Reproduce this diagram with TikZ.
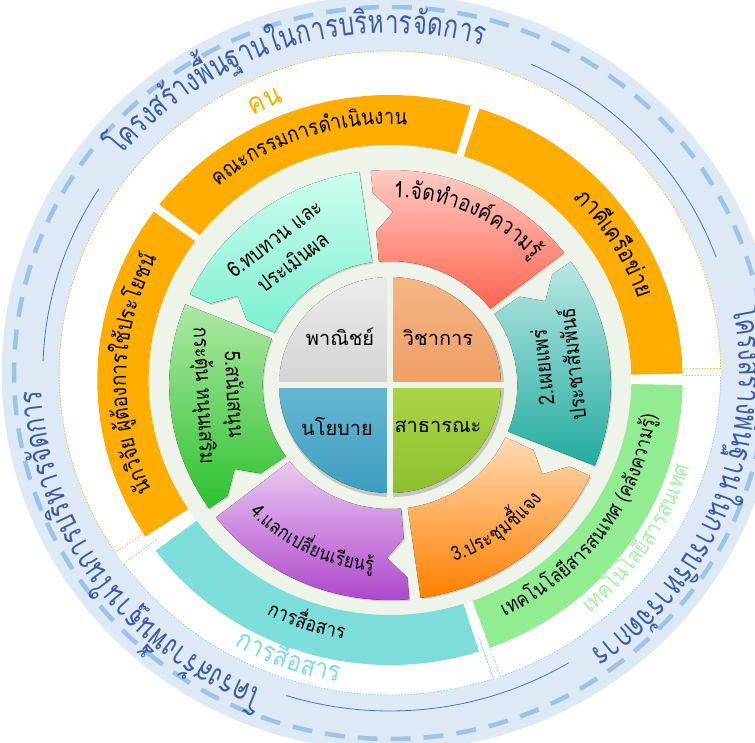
\documentclass[tikz,border=0pt]{standalone}
\usepackage{fontspec}
\newfontfamily\thai[Script=Thai]{Loma}
\newfontfamily\thaiC[Script=Thai,FakeStretch=0.85]{Loma}
\newfontfamily\thaiB[Script=Thai,FakeStretch=0.75]{Loma}
\usetikzlibrary{shadows}

\definecolor{bandC}{HTML}{DDEAF6}
\definecolor{dashC}{HTML}{9DC3E6}
\definecolor{lineC}{HTML}{4A76C4}
\definecolor{outtxt}{HTML}{3B5BA9}
\definecolor{orgC}{HTML}{FFAD00}
\definecolor{tealC}{HTML}{7CDDDB}
\definecolor{grnC}{HTML}{92EC92}
\definecolor{grnT}{HTML}{A3F2A3}
\definecolor{tealT}{HTML}{7DDEDE}
\definecolor{dotO}{HTML}{FFB940}
\definecolor{dotT}{HTML}{84D9E2}
\definecolor{paleC}{HTML}{EEF4EA}
\definecolor{a1t}{HTML}{FFCFC8}\definecolor{a1b}{HTML}{FF6450}
\definecolor{a2t}{HTML}{B8E8E3}\definecolor{a2b}{HTML}{24ABA0}
\definecolor{a3t}{HTML}{FFD9B3}\definecolor{a3b}{HTML}{FF8000}
\definecolor{a4t}{HTML}{EACBF2}\definecolor{a4b}{HTML}{AC42C9}
\definecolor{a5t}{HTML}{ADE8A5}\definecolor{a5b}{HTML}{2EC22E}
\definecolor{a6t}{HTML}{CDFDEF}\definecolor{a6b}{HTML}{7CF0CF}
\definecolor{q1t}{HTML}{EBEBEB}\definecolor{q1b}{HTML}{D4D4D4}
\definecolor{q2t}{HTML}{F6B585}\definecolor{q2b}{HTML}{EE9E62}
\definecolor{q3t}{HTML}{66B8D2}\definecolor{q3b}{HTML}{3E9DBF}
\definecolor{q4t}{HTML}{ABD446}\definecolor{q4b}{HTML}{8DBF2E}

\newlength\atW \newlength\atC \newlength\atT
\newcommand\atmeasure[2]{\setbox0=\hbox{#1\fontsize{10}{12}\selectfont #2}\global\atW=\wd0 }
\makeatletter
% measure a list of clusters (outside the picture); #1 name, #2 font, #3 clusters
\newcommand\prepare[3]{%
  \global\atT=0pt
  \gdef\at@tmp{}%
  \@for\cl:=#3\do{%
    \atmeasure{#2}{\cl}%
    \global\advance\atT by \atW
    \xdef\at@tmp{\unexpanded\expandafter{\at@tmp}\noexpand\atitem{\unexpanded\expandafter{\cl}}{\the\atW}}%
  }%
  \expandafter\global\expandafter\let\csname at@list@#1\endcsname\at@tmp
  \expandafter\xdef\csname at@tot@#1\endcsname{\the\atT}%
  \expandafter\gdef\csname at@font@#1\endcsname{#2}%
}
% #1 name, #2 radius, #3 mid angle, #4 span, #5 dir (1 cw/bottoms in, -1 ccw/bottoms out), #6 node options
\newcommand\arctext[6]{%
  \edef\atTot{\csname at@tot@#1\endcsname}%
  \pgfmathsetmacro\atF{10*(#4)*pi/180*(#2)/\atTot}%
  \global\atC=0pt
  \def\atitem##1##2{%
    \pgfmathsetmacro\atA{#3+(#5)*((#4)/2-(\atC+0.5*##2)*(#4)/\atTot)}%
    \pgfmathsetmacro\atR{\atA-90*(#5)}%
    \node[inner sep=0pt,outer sep=0pt,anchor=mid,rotate=\atR,#6] at (\atA:#2) {\csname at@font@#1\endcsname\fontsize{\atF}{\atF}\selectfont ##1};%
    \global\advance\atC by ##2\relax
  }%
  \csname at@list@#1\endcsname
}
\makeatother
% arrow segment: #1 start angle, #2 top colour, #3 bottom colour
\newcommand\arrowseg[3]{%
  \fill[top color=#2,bottom color=#3,drop shadow={opacity=0.3,shadow xshift=1.2pt,shadow yshift=-1.5pt}]
    (#1:215) arc[start angle=#1,end angle=#1-57,radius=215] -- (#1-57:124)
    arc[start angle=#1-57,end angle=#1,radius=124] -- (#1:154) -- (#1-6:173) -- (#1:193) -- cycle;}
\newcommand\ringseg[3]{%
  \fill[#3] (#1:235) arc[start angle=#1,end angle=#2,radius=235] -- (#2:285)
    arc[start angle=#2,end angle=#1,radius=285] -- cycle;}

\tikzset{
  dotline/.style={line width=0.8pt,dash pattern=on 1.5pt off 1.5pt},
  atext/.style={align=center,inner sep=0pt,font={\thaiC\fontsize{21.5}{30}\selectfont}},
  ctext/.style={inner sep=0pt,font={\thai\fontsize{20}{24}\selectfont}}
}

\begin{document}
\prepare{band}{\thaiB}{โ,ค,ร,ง,ส,ร้,า,ง,พื้,น,ฐ,า,น,ใ,น,ก,า,ร,บ,ริ,ห,า,ร,จั,ด,ก,า,ร}
\prepare{kana}{\thaiC}{ค,ณ,ะ,ก,ร,ร,ม,ก,า,ร,ดำ,เ,นิ,น,ง,า,น}
\prepare{paki}{\thaiC}{ภ,า,คี,เ,ค,รื,อ,ข่,า,ย}
\prepare{nak}{\thaiC}{นั,ก,วิ,จั,ย,\space,ผู้,ต้,อ,ง,ก,า,ร,ใ,ช้,ป,ร,ะ,โ,ย,ช,น์}
\prepare{suesan}{\thaiC}{ก,า,ร,สื่,อ,ส,า,ร}
\prepare{tech}{\thaiC}{เ,ท,ค,โ,น,โ,ล,ยี,ส,า,ร,ส,น,เ,ท,ศ,\space,(,ค,ลั,ง,ค,ว,า,ม,รู้,)}
\prepare{techs}{\thaiC}{เ,ท,ค,โ,น,โ,ล,ยี,ส,า,ร,ส,น,เ,ท,ศ}
\prepare{one}{\thaiC}{1,.,จั,ด,ทำ,อ,ง,ค์,ค,ว,า,ม,รู้}
\prepare{three}{\thaiC}{3,.,ป,ร,ะ,ชุ,ม,ชี้,แ,จ,ง}
\prepare{four}{\thaiC}{4,.,แ,ล,ก,เ,ป,ลี่,ย,น,เ,รี,ย,น,รู้}
\begin{tikzpicture}[x=1pt,y=1pt]
\useasboundingbox (-390,-357) rectangle (365,385);
\fill[white] (-390,-357) rectangle (365,385);
\begin{scope}[xscale=1.027]
 % outer band
 \begin{scope}[shift={(0,12)}]
  \fill[bandC,even odd rule] (0,0) circle (378) (0,0) circle (322);
  \draw[dashC,line width=4.5pt,dash pattern=on 20pt off 13pt] (0,0) circle (366);
  \draw[lineC,line width=0.8pt] (147:338) arc[start angle=147,end angle=178,radius=338];
  \draw[lineC,line width=0.8pt] (66:338) arc[start angle=66,end angle=20,radius=338];
  \draw[lineC,line width=0.8pt] (252.6:338) arc[start angle=252.6,end angle=301,radius=338];
  \draw[dotO,dotline] (213.8:283) -- (213.8:322) arc[start angle=213.8,end angle=0.8,radius=322] -- (0.8:284);
  \draw[dotT,dotline] (216.3:282) -- (216.3:322) arc[start angle=216.3,end angle=288.2,radius=322] -- (288.2:279);
  \draw[dotT,dotline] (289.5:279) -- (289.5:322) arc[start angle=289.5,end angle=359.5,radius=322] -- (359.5:284);
  \arctext{band}{342}{107.5}{66}{1}{text=outtxt}
  \arctext{band}{342}{-22}{66}{1}{text=outtxt}
  \arctext{band}{342}{216}{66}{1}{text=outtxt}
 \end{scope}
 % pale disk
 \begin{scope}[shift={(0,4)}]
  \fill[paleC] (0,0) circle (235);
 \end{scope}
 % ring
 \begin{scope}[shift={(0,5)}]
  \ringseg{74.0}{142.0}{orgC}
  \ringseg{1.3}{72.2}{orgC}
  \ringseg{143.8}{213.3}{orgC}
  \ringseg{216.8}{287.7}{tealC}
  \ringseg{290.0}{359.0}{grnC}
  \arctext{kana}{258}{108.5}{44.5}{1}{}
  \arctext{paki}{257}{32}{27}{1}{}
  \arctext{nak}{259}{178.6}{53.7}{1}{}
  \arctext{suesan}{261}{251.5}{17.5}{-1}{}
  \arctext{tech}{259}{-36.2}{57}{-1}{}
  \arctext{suesan}{304}{250.5}{20.5}{-1}{text=tealT}
  \arctext{techs}{302}{-33.3}{33.6}{-1}{text=grnT}
  \node[text=orgC,rotate=23.6,inner sep=0pt,font={\thaiC\fontsize{29}{30}\selectfont}] (kon) at (113.6:304) {คน};
 \end{scope}
 % arrows
 \arrowseg{95}{a1t}{a1b}
 \arrowseg{35}{a2t}{a2b}
 \arrowseg{-25}{a3t}{a3b}
 \arrowseg{-85}{a4t}{a4b}
 \arrowseg{215}{a5t}{a5b}
 \arrowseg{155}{a6t}{a6b}
 \arctext{one}{190}{65.5}{47}{1}{}
 \arctext{three}{185}{-54}{33}{-1}{}
 \arctext{four}{185}{244}{42}{-1}{}
 \node[atext,rotate=96] (a2) at (6.7:164) {2.เผยแพร่\\ประชาสัมพันธ์};
 \node[atext,rotate=-87] (a5) at (183.4:168) {5.สนับสนุน\\กระตุ้น หนุนเสริม};
 \node[atext,rotate=37.6] (a6) at (127.6:170) {6.ทบทวน และ\\ประเมินผล};
 % centre quadrants
 \fill[black,opacity=.18] (1.5,-2.5) circle (109.5);
 \fill[top color=q1t,bottom color=q1b] (0,0) -- (180:108) arc[start angle=180,end angle=90,radius=108] -- cycle;
 \fill[top color=q2t,bottom color=q2b] (0,0) -- (90:108) arc[start angle=90,end angle=0,radius=108] -- cycle;
 \fill[top color=q3t,bottom color=q3b] (0,0) -- (180:108) arc[start angle=180,end angle=270,radius=108] -- cycle;
 \fill[top color=q4t,bottom color=q4b] (0,0) -- (270:108) arc[start angle=270,end angle=360,radius=108] -- cycle;
 \draw[paleC,line width=6.5pt] (-113,0) -- (113,0) (0,-113) -- (0,113);
\end{scope}
\node[ctext] (q1) at (-50,48) {พาณิชย์};
\node[ctext] (q2) at (48,47) {วิชาการ};
\node[ctext] (q3) at (-53,-42) {นโยบาย};
\node[ctext] (q4) at (48,-42) {สาธารณะ};
\end{tikzpicture}
\end{document}
